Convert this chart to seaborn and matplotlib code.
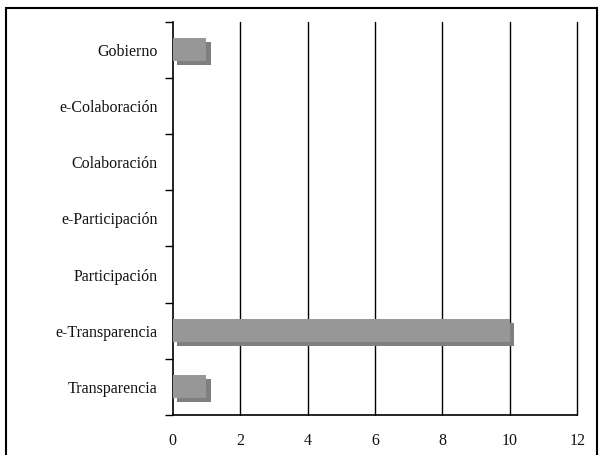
import matplotlib
matplotlib.use("Agg")
import matplotlib.pyplot as plt
import matplotlib.patheffects as pe
import seaborn as sns
import pandas as pd

categories = ["Gobierno", "e-Colaboración", "Colaboración", "e-Participación",
              "Participación", "e-Transparencia", "Transparencia"]
values = [1, 0, 0, 0, 0, 10, 1]
xticks = [0, 2, 4, 6, 8, 10, 12]

df = pd.DataFrame({"cat": categories, "val": values})

sns.set_style("white")
plt.rcParams["font.family"] = ["Liberation Serif", "DejaVu Serif"]

fig = plt.figure(figsize=(6, 4.55), dpi=100)
ax = fig.add_axes([0.288, 0.088, 0.674, 0.864])

sns.barplot(data=df, x="val", y="cat", orient="h", color="#979797",
            saturation=1, width=0.41, ax=ax, errorbar=None)
shadow = [pe.SimplePatchShadow(offset=(2.9, -2.9), shadow_rgbFace="#7f7f7f", alpha=1.0),
          pe.Normal()]
for p in ax.patches:
    p.set_edgecolor("none")
    p.set_path_effects(shadow)
    p.set_zorder(3)

ax.set_xlim(0, 12)
ax.set_ylim(6.5, -0.5)
ax.set_xticks(xticks)
ax.set_xticklabels([str(t) for t in xticks], fontsize=11.5)
ax.set_yticks([i - 0.5 for i in range(8)])
ax.set_yticklabels([])
ax.set_yticks(range(len(categories)), minor=True)
ax.set_yticklabels(categories, minor=True, fontsize=11.5)
ax.tick_params(axis="y", which="major", left=True, length=6, width=1, color="black", direction="out")
ax.tick_params(axis="y", which="minor", left=False, length=0, pad=11, labelcolor="#111111")
ax.tick_params(axis="x", which="major", bottom=False, length=0, pad=13, labelcolor="#111111")
ax.set_xlabel("")
ax.set_ylabel("")

for t in xticks[1:]:
    ax.axvline(t, color="black", lw=1, zorder=1, clip_on=False)

for s in ["top", "right"]:
    ax.spines[s].set_visible(False)
ax.spines["left"].set_color("black")
ax.spines["bottom"].set_color("black")
ax.spines["left"].set_linewidth(1.2)
ax.spines["bottom"].set_linewidth(1.2)

frame = plt.Rectangle((6/600, -0.05), 591/600, 1 - 8/455 + 0.05, transform=fig.transFigure,
                      fill=False, edgecolor="black", lw=1.5)
fig.patches.append(frame)

fig.savefig("out.png", dpi=100)
